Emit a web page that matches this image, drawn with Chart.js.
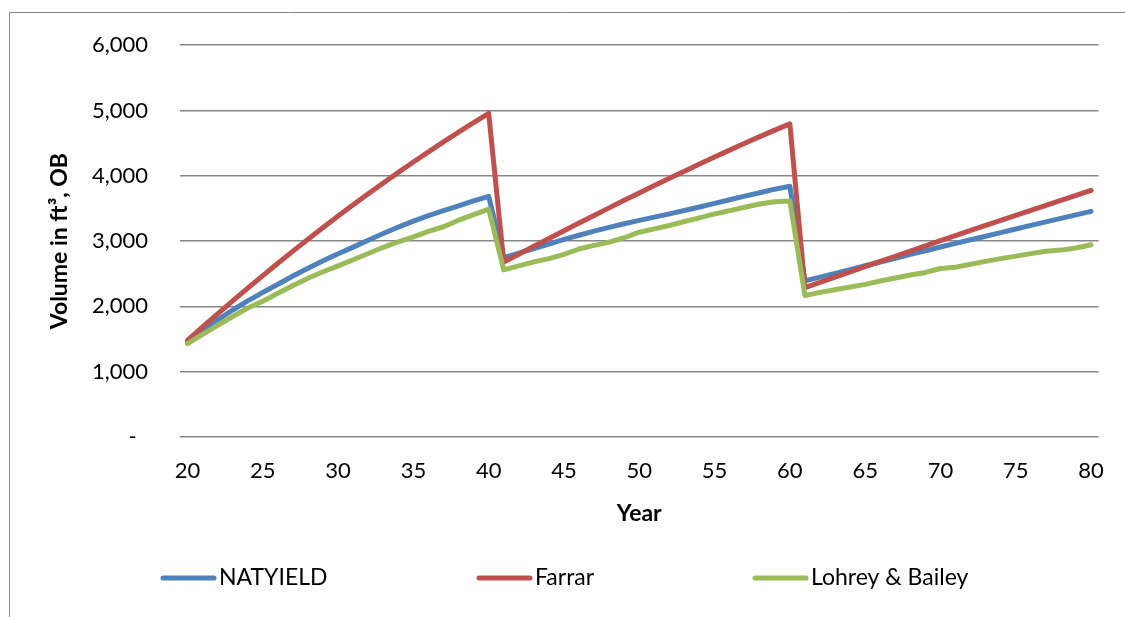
<!DOCTYPE html>
<html><head><meta charset="utf-8">
<script src="https://cdn.jsdelivr.net/npm/chart.js@4"></script>
<style>html,body{margin:0;padding:0;background:#fff;} canvas{display:block;}</style>
</head><body>
<canvas id="c" width="1125" height="617"></canvas>
<script>
const years = [20,21,22,23,24,25,26,27,28,29,30,31,32,33,34,35,36,37,38,39,40,
  41,42,43,44,45,46,47,48,49,50,51,52,53,54,55,56,57,58,59,60,
  61,62,63,64,65,66,67,68,69,70,71,72,73,74,75,76,77,78,79,80];
const natyield = [1470,1635,1795,1945,2085,2215,2340,2465,2585,2700,2805,2908,3012,3115,3215,3305,3390,3465,3540,3615,3685,
  2747,2815,2885,2955,3025,3090,3152,3210,3265,3318,3367,3417,3468,3522,3578,3633,3688,3740,3795,3840,
  2390,2448,2506,2564,2622,2680,2738,2796,2853,2910,2965,3020,3075,3130,3185,3240,3295,3349,3402,3455];
const farrar = [1480,1685,1887,2085,2280,2472,2661,2846,3028,3207,3383,3555,3724,3890,4052,4211,4367,4519,4668,4814,4956,
  2680,2800,2920,3040,3158,3276,3393,3509,3624,3738,3850,3961,4071,4180,4287,4393,4497,4600,4700,4795,
  2286,2367,2448,2528,2608,2688,2768,2848,2928,3007,3085,3163,3240,3317,3394,3471,3548,3625,3701,3778];
const lohrey = [1430,1570,1710,1845,1975,2080,2200,2320,2430,2530,2620,2715,2810,2905,2990,3066,3150,3220,3320,3405,3490,
  2560,2621,2682,2732,2798,2879,2934,2985,3051,3136,3188,3239,3300,3355,3416,3467,3518,3568,3604,3615,
  2168,2215,2255,2296,2337,2388,2434,2480,2520,2580,2600,2645,2690,2732,2770,2808,2845,2862,2895,2945];
const seriesNames = ['NATYIELD', 'Farrar', 'Lohrey & Bailey'];
const seriesColors = ['#4F81BD', '#C0504D', '#9BBB59'];
const yTickValues = [0, 1000, 2000, 3000, 4000, 5000, 6000];
const xLabelStep = 5;

const FONT = 'Lato, "Liberation Sans", sans-serif';
Chart.defaults.font.family = FONT;
Chart.defaults.color = '#000';

const framePlugin = {
  id: 'frame',
  beforeDraw(chart) {
    const ctx = chart.ctx;
    ctx.save();
    ctx.fillStyle = '#fff';
    ctx.fillRect(0, 0, chart.width, chart.height);
    ctx.strokeStyle = '#868686';
    ctx.lineWidth = 1;
    ctx.beginPath();
    ctx.moveTo(9.5, chart.height);
    ctx.lineTo(9.5, 12.5);
    ctx.lineTo(chart.width, 12.5);
    ctx.stroke();
    ctx.restore();
  }
};

const legendPos = [161, 477, 753];
const legendPlugin = {
  id: 'customLegend',
  afterDraw(chart) {
    const ctx = chart.ctx;
    const y = 578;
    ctx.save();
    ctx.font = '23px ' + FONT;
    ctx.textBaseline = 'middle';
    ctx.textAlign = 'left';
    seriesNames.forEach((name, i) => {
      const x = legendPos[i];
      ctx.strokeStyle = seriesColors[i];
      ctx.lineWidth = 5;
      ctx.lineCap = 'round';
      ctx.beginPath();
      ctx.moveTo(x + 2, y);
      ctx.lineTo(x + 53, y);
      ctx.stroke();
      ctx.fillStyle = '#000';
      ctx.fillText(name, x + 58, y);
    });
    ctx.restore();
  }
};

const seriesData = [natyield, farrar, lohrey];
new Chart(document.getElementById('c'), {
  type: 'line',
  data: {
    labels: years,
    datasets: seriesData.map((d, i) => ({
      label: seriesNames[i],
      data: d,
      borderColor: seriesColors[i],
      backgroundColor: seriesColors[i],
      order: 3 - i
    }))
  },
  options: {
    responsive: false,
    animation: false,
    devicePixelRatio: 1,
    layout: { padding: { top: 44, right: 25, bottom: 87, left: 0 } },
    plugins: { legend: { display: false }, tooltip: { enabled: false } },
    elements: {
      line: { borderWidth: 5, tension: 0, borderCapStyle: 'round', borderJoinStyle: 'round', fill: false },
      point: { radius: 0, hoverRadius: 0 }
    },
    scales: {
      x: {
        type: 'category',
        offset: true,
        grid: { display: false, drawTicks: false },
        border: { display: false },
        ticks: {
          autoSkip: false, maxRotation: 0, minRotation: 0, padding: 21,
          font: { size: 22 },
          callback(v, i) { const yr = years[i]; return yr % xLabelStep === 0 ? String(yr) : ''; }
        },
        title: { display: true, text: 'Year', font: { size: 23, weight: 'bold' }, padding: { top: 0, bottom: 3 } },
        afterFit(s) { s.height = 93; }
      },
      y: {
        min: 0, max: 6000,
        afterBuildTicks(s) { s.ticks = yTickValues.map(v => ({ value: v })); },
        grid: { color: '#878787', lineWidth: 1.5, drawTicks: false },
        border: { display: false },
        ticks: {
          padding: 32,
          font: { size: 22 },
          callback(v) { return v === 0 ? '-  ' : v.toLocaleString('en-US'); }
        },
        title: { display: true, text: 'Volume in ft³, OB', font: { size: 23, weight: 'bold' }, padding: { top: 46, bottom: 0 } },
        afterFit(s) { s.width = 180; }
      }
    }
  },
  plugins: [framePlugin, legendPlugin]
});
</script>
</body></html>
